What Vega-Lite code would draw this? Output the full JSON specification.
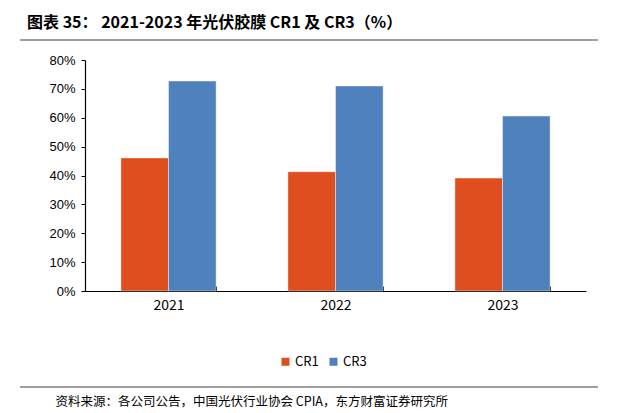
{
  "$schema": "https://vega.github.io/schema/vega-lite/v6.json",
  "autosize": {"type": "none"},
  "width": 501,
  "height": 231,
  "padding": {"left": 85, "top": 60, "right": 32, "bottom": 122},
  "background": "white",
  "title": {
    "text": "图表 35： 2021-2023 年光伏胶膜 CR1 及 CR3（%）",
    "anchor": "start",
    "frame": "group",
    "orient": "top",
    "dx": -58,
    "offset": 8,
    "font": "Noto Sans CJK SC",
    "fontSize": 16,
    "fontWeight": "bold",
    "color": "#000000"
  },
  "config": {
    "view": {"stroke": null},
    "axis": {"grid": false}
  },
  "layer": [
    {
      "data": {
        "values": [
          {"year": "2021", "series": "CR1", "value": 0.461},
          {"year": "2021", "series": "CR3", "value": 0.727},
          {"year": "2022", "series": "CR1", "value": 0.413},
          {"year": "2022", "series": "CR3", "value": 0.710},
          {"year": "2023", "series": "CR1", "value": 0.391},
          {"year": "2023", "series": "CR3", "value": 0.606}
        ]
      },
      "mark": {"type": "bar", "stroke": "#ffffff", "strokeOpacity": 0.6, "strokeWidth": 0.7},
      "encoding": {
        "x": {
          "field": "year",
          "type": "nominal",
          "scale": {"paddingInner": 0.43, "paddingOuter": 0.215},
          "axis": {
            "title": "资料来源：各公司公告，中国光伏行业协会 CPIA，东方财富证券研究所",
            "titleFont": "Noto Sans CJK SC",
            "titleFontSize": 12.5,
            "titleFontWeight": "normal",
            "titleColor": "#000000",
            "titleAnchor": "start",
            "titleAlign": "left",
            "titleBaseline": "middle",
            "titleX": -30,
            "titleY": 110,
            "labelAngle": 0,
            "labelFont": "Noto Sans CJK SC",
            "labelFontSize": 14,
            "labelColor": "#000000",
            "labelPadding": 12,
            "domainColor": "#000000",
            "domainWidth": 1.2,
            "tickColor": "#000000",
            "tickBand": "extent",
            "tickSize": -5,
            "tickWidth": 1
          }
        },
        "xOffset": {"field": "series", "type": "nominal", "scale": {"paddingInner": 0, "paddingOuter": 0}},
        "y": {
          "field": "value",
          "type": "quantitative",
          "scale": {"domain": [0, 0.8], "nice": false},
          "axis": {
            "title": null,
            "format": ".0%",
            "values": [0, 0.1, 0.2, 0.3, 0.4, 0.5, 0.6, 0.7, 0.8],
            "labelFont": "Liberation Sans",
            "labelFontSize": 13,
            "labelColor": "#000000",
            "labelPadding": 6,
            "domainColor": "#000000",
            "domainWidth": 1.2,
            "tickColor": "#000000",
            "tickSize": 4
          }
        },
        "color": {
          "field": "series",
          "type": "nominal",
          "scale": {"domain": ["CR1", "CR3"], "range": ["#DF4E1E", "#4F81BD"]},
          "legend": {
            "title": null,
            "orient": "none",
            "legendX": 194,
            "legendY": 295,
            "direction": "horizontal",
            "symbolType": "square",
            "symbolSize": 64,
            "symbolStrokeWidth": 0,
            "labelFont": "Noto Sans CJK SC",
            "labelFontSize": 13,
            "labelColor": "#000000",
            "labelOffset": 3,
            "columnPadding": 8
          }
        }
      }
    },
    {
      "data": {"values": [{}]},
      "mark": {"type": "rule", "color": "#7f7f7f", "strokeWidth": 1.5},
      "encoding": {
        "x": {"value": -65},
        "x2": {"value": 513},
        "y": {"value": -20}
      }
    },
    {
      "data": {"values": [{}]},
      "mark": {"type": "rule", "color": "#7f7f7f", "strokeWidth": 1.5},
      "encoding": {
        "x": {"value": -65},
        "x2": {"value": 513},
        "y": {"value": 327}
      }
    }
  ]
}
